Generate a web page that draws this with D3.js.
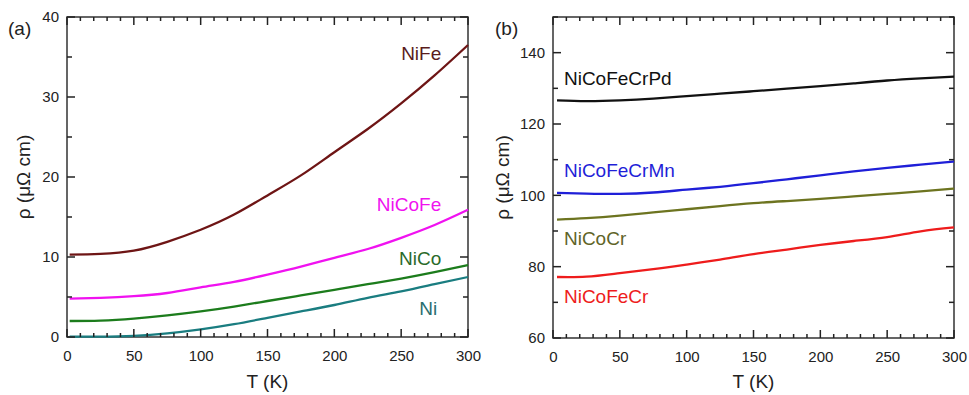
<!DOCTYPE html>
<html>
<head>
<meta charset="utf-8">
<script src="https://cdn.jsdelivr.net/npm/d3@7"></script>
<style>
  body { margin: 0; background: #fff; }
  svg text { font-family: "Liberation Sans", Arial, sans-serif; }
  .tick text { fill: #222; font-size: 15px; }
  .domain { display: none; }
</style>
</head>
<body>
<svg id="chart" width="969" height="395"></svg>
<script>
// temperature grid (K)
const tempA = [2, 25, 50, 75, 100, 125, 150, 175, 200, 225, 250, 275, 300]
const tempB = [3, 25, 50, 75, 100, 125, 150, 175, 200, 225, 250, 275, 300]

// panel (a) resistivity, µΩ cm
const niFe   = [10.3, 10.4, 10.8, 11.9, 13.4, 15.3, 17.7, 20.2, 23.1, 26.0, 29.2, 32.7, 36.5]
const niCoFe = [4.8, 4.9, 5.1, 5.5, 6.2, 6.9, 7.8, 8.8, 9.9, 11.0, 12.4, 14.0, 15.9]
const niCo   = [2.0, 2.05, 2.3, 2.7, 3.2, 3.8, 4.5, 5.2, 5.9, 6.6, 7.3, 8.1, 9.0]
const ni     = [0.05, 0.05, 0.15, 0.45, 0.95, 1.6, 2.4, 3.2, 4.0, 4.9, 5.7, 6.6, 7.5]

// panel (b) resistivity, µΩ cm
const niCoFeCrPd = [126.6, 126.4, 126.6, 127.1, 127.8, 128.5, 129.2, 129.9, 130.6, 131.4, 132.2, 132.8, 133.3]
const niCoFeCrMn = [100.7, 100.5, 100.4, 100.8, 101.6, 102.4, 103.4, 104.5, 105.6, 106.7, 107.7, 108.6, 109.5]
const niCoCr     = [93.2, 93.6, 94.3, 95.2, 96.1, 97.0, 97.8, 98.4, 99.0, 99.7, 100.4, 101.1, 101.9]
const niCoFeCr   = [77.1, 77.2, 78.2, 79.3, 80.6, 82.0, 83.5, 84.8, 86.1, 87.2, 88.3, 89.9, 91.0]

const xTicks = [0, 50, 100, 150, 200, 250, 300]
const yTicksA = [0, 10, 20, 30, 40]
const yTicksB = [60, 80, 100, 120, 140]

const svg = d3.select("#chart")

function drawPanel(opt) {
    const x = d3.scaleLinear().domain([0, 300]).range([opt.left, opt.right])
    const y = d3.scaleLinear().domain(opt.yDomain).range([opt.bottom, opt.top])
    const g = svg.append("g")

    const minorX = d3.range(0, 301, 10).filter(v => v % 50 !== 0)
    const minorY = d3.range(opt.yDomain[0], opt.yDomain[1] + 0.01, opt.yMinor).filter(v => !opt.yTicks.includes(v))

    // frame
    g.append("path")
        .attr("d", `M${opt.left},${opt.top}H${opt.right}V${opt.bottom}H${opt.left}Z`)
        .attr("fill", "none").attr("stroke", "#333").attr("stroke-width", 1.5)

    // tick labels
    g.append("g").attr("transform", `translate(0,${opt.bottom})`)
        .call(d3.axisBottom(x).tickValues(xTicks).tickSize(0).tickPadding(13))
    g.append("g").attr("transform", `translate(${opt.left},0)`)
        .call(d3.axisLeft(y).tickValues(opt.yTicks).tickSize(0).tickPadding(8))

    const line = d3.line()
        .x(d => x(d[0]))
        .y(d => y(d[1]))
        .curve(d3.curveNatural)

    opt.series.forEach(s => {
        g.append("path")
            .datum(opt.temps.map((t, i) => [t, s.values[i]]))
            .attr("fill", "none")
            .attr("stroke", s.color)
            .attr("stroke-width", 2.3)
            .attr("d", line)

        g.append("text")
            .attr("x", x(s.lx))
            .attr("y", y(s.ly))
            .attr("text-anchor", s.anchor)
            .attr("fill", s.textColor || s.color)
            .style("font-size", "19px")
            .text(s.name)
    })

    // inward ticks on all four sides
    const xt = xTicks.map(v => [v, 8]).concat(minorX.map(v => [v, 4]))
    const yt = opt.yTicks.map(v => [v, 8]).concat(minorY.map(v => [v, 5]))
    const tg = g.append("g").attr("stroke", "#222").attr("stroke-width", 1.5)
    xt.forEach(([v, len]) => {
        tg.append("line").attr("x1", x(v)).attr("x2", x(v)).attr("y1", opt.bottom).attr("y2", opt.bottom - len)
        tg.append("line").attr("x1", x(v)).attr("x2", x(v)).attr("y1", opt.top).attr("y2", opt.top + len)
    })
    yt.forEach(([v, len]) => {
        tg.append("line").attr("y1", y(v)).attr("y2", y(v)).attr("x1", opt.left).attr("x2", opt.left + len)
        tg.append("line").attr("y1", y(v)).attr("y2", y(v)).attr("x1", opt.right).attr("x2", opt.right - len)
    })

    g.append("text")
        .attr("x", (opt.left + opt.right) / 2)
        .attr("y", 388)
        .attr("text-anchor", "middle")
        .attr("fill", "#222")
        .style("font-size", "19px")
        .text("T (K)")

    g.append("text")
        .attr("transform", `translate(${opt.ylabelX},${(opt.top + opt.bottom) / 2}) rotate(-90)`)
        .attr("text-anchor", "middle")
        .attr("fill", "#222")
        .style("font-size", "19px")
        .text("ρ (μΩ cm)")

    g.append("text")
        .attr("x", opt.tagX)
        .attr("y", 35)
        .attr("fill", "#222")
        .style("font-size", "19px")
        .text(opt.tag)
}

drawPanel({
    left: 67, right: 468, top: 17, bottom: 337,
    yDomain: [0, 40], yTicks: yTicksA, yMinor: 5,
    ylabelX: 30, tagX: 8, tag: "(a)",
    temps: tempA,
    series: [
        { name: "NiFe", values: niFe, color: "#6e1515", textColor: "#5a1c1c", lx: 280, ly: 34.6, anchor: "end" },
        { name: "NiCoFe", values: niCoFe, color: "#f012f0", lx: 280, ly: 15.75, anchor: "end" },
        { name: "NiCo", values: niCo, color: "#1c7c1c", textColor: "#2a6a2a", lx: 280, ly: 9.0, anchor: "end" },
        { name: "Ni", values: ni, color: "#1a7d80", textColor: "#2a6e70", lx: 277, ly: 2.75, anchor: "end" }
    ]
})

drawPanel({
    left: 553, right: 954, top: 17, bottom: 338,
    yDomain: [60, 150], yTicks: yTicksB, yMinor: 10,
    ylabelX: 509, tagX: 495, tag: "(b)",
    temps: tempB,
    series: [
        { name: "NiCoFeCrPd", values: niCoFeCrPd, color: "#111", lx: 8.2, ly: 130.9, anchor: "start" },
        { name: "NiCoFeCrMn", values: niCoFeCrMn, color: "#1f1fd8", lx: 8.2, ly: 105.1, anchor: "start" },
        { name: "NiCoCr", values: niCoCr, color: "#6d7420", textColor: "#5f6428", lx: 8.2, ly: 86.1, anchor: "start" },
        { name: "NiCoFeCr", values: niCoFeCr, color: "#ee1c1c", lx: 8.2, ly: 69.8, anchor: "start" }
    ]
})
</script>
</body>
</html>
